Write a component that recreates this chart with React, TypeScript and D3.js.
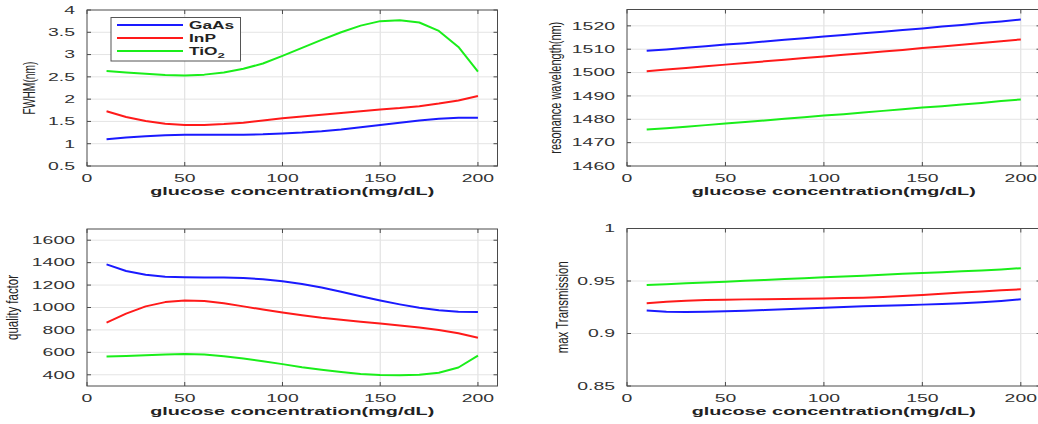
import React from "react";
import * as d3 from "d3";

// ---------- data ----------
const concentration = [10, 20, 30, 40, 50, 60, 70, 80, 90, 100, 110, 120, 130, 140, 150, 160, 170, 180, 190, 200];
const seriesNames = ["GaAs", "InP", "TiO2"];
const seriesColors = ["#1a1aff", "#ff1a1a", "#1aee1a"];

const fwhmGaAs = [1.10, 1.14, 1.17, 1.19, 1.20, 1.20, 1.20, 1.20, 1.21, 1.23, 1.25, 1.28, 1.32, 1.37, 1.42, 1.47, 1.52, 1.56, 1.58, 1.58];
const fwhmInP = [1.73, 1.60, 1.51, 1.45, 1.42, 1.42, 1.44, 1.47, 1.52, 1.57, 1.61, 1.65, 1.69, 1.73, 1.77, 1.80, 1.84, 1.90, 1.97, 2.07];
const fwhmTiO2 = [2.63, 2.60, 2.57, 2.54, 2.53, 2.55, 2.60, 2.68, 2.80, 2.97, 3.15, 3.33, 3.50, 3.65, 3.75, 3.77, 3.72, 3.53, 3.17, 2.62];

const resGaAs = [1509.3, 1509.9, 1510.6, 1511.3, 1512.0, 1512.6, 1513.3, 1514.0, 1514.7, 1515.4, 1516.1, 1516.8, 1517.5, 1518.2, 1518.9, 1519.7, 1520.4, 1521.2, 1521.9, 1522.7];
const resInP = [1500.6, 1501.3, 1502.0, 1502.7, 1503.4, 1504.1, 1504.8, 1505.5, 1506.2, 1506.9, 1507.6, 1508.3, 1509.0, 1509.7, 1510.5, 1511.2, 1511.9, 1512.7, 1513.4, 1514.2];
const resTiO2 = [1475.6, 1476.2, 1476.8, 1477.5, 1478.2, 1478.8, 1479.5, 1480.2, 1480.9, 1481.6, 1482.2, 1482.9, 1483.6, 1484.3, 1485.0, 1485.6, 1486.3, 1487.0, 1487.8, 1488.5];

const qGaAs = [1385, 1325, 1292, 1275, 1270, 1268, 1268, 1262, 1252, 1235, 1210, 1178, 1140, 1100, 1062, 1028, 997, 975, 962, 960];
const qInP = [865, 945, 1010, 1048, 1062, 1058, 1038, 1010, 982, 955, 930, 908, 890, 873, 857, 840, 822, 800, 770, 730];
const qTiO2 = [562, 568, 575, 582, 585, 580, 565, 545, 520, 495, 468, 445, 425, 408, 398, 395, 400, 418, 465, 570];

const tGaAs = [0.9218, 0.9208, 0.9205, 0.9207, 0.9211, 0.9217, 0.9223, 0.9230, 0.9238, 0.9246, 0.9253, 0.9259, 0.9264, 0.9269, 0.9275, 0.9281, 0.9289, 0.9298, 0.9310, 0.9326];
const tInP = [0.9288, 0.9302, 0.9312, 0.9318, 0.9322, 0.9325, 0.9327, 0.9329, 0.9331, 0.9334, 0.9337, 0.9341, 0.9348, 0.9356, 0.9366, 0.9378, 0.9390, 0.9401, 0.9411, 0.9421];
const tTiO2 = [0.9462, 0.9470, 0.9478, 0.9486, 0.9494, 0.9502, 0.9510, 0.9519, 0.9527, 0.9535, 0.9543, 0.9551, 0.9559, 0.9568, 0.9576, 0.9584, 0.9592, 0.9600, 0.9610, 0.9622];

const xTicks = [0, 50, 100, 150, 200];
const fwhmTicks = [0.5, 1, 1.5, 2, 2.5, 3, 3.5, 4];
const resTicks = [1460, 1470, 1480, 1490, 1500, 1510, 1520];
const qTicks = [400, 600, 800, 1000, 1200, 1400, 1600];
const tTicks = [0.85, 0.9, 0.95, 1];
const xLabel = "glucose concentration(mg/dL)";

const FONT = "'Liberation Sans', Arial, Helvetica, sans-serif";
const SX = 1.85; // horizontal stretch of the text in the reference

type PanelProps = {
  left: number; right: number; top: number; bottom: number;
  yDomain: [number, number];
  yTicks: number[];
  yLabel: string;
  yLabelX: number;
  yLabelLen: number;
  series: number[][];
  legend?: boolean;
};

function fmt(v: number) {
  return String(+v.toFixed(4));
}

function Panel(p: PanelProps) {
  const x = d3.scaleLinear().domain([0, 210]).range([p.left, p.right]);
  const y = d3.scaleLinear().domain(p.yDomain).range([p.bottom, p.top]);
  const line = d3
    .line<[number, number]>()
    .x((d) => x(d[0]))
    .y((d) => y(d[1]))
    .curve(d3.curveLinear);
  const midX = (p.left + p.right) / 2;
  const midY = (p.top + p.bottom) / 2;
  const tickLen = 4;
  const axisColor = "#4a4a4a";
  return (
    <g>
      <rect x={p.left} y={p.top} width={p.right - p.left} height={p.bottom - p.top} fill="#fff" />
      {/* grid */}
      {xTicks.filter((t) => t > 0).map((t) => (
        <line key={"gx" + t} x1={x(t)} x2={x(t)} y1={p.top} y2={p.bottom} stroke="#dcdcdc" strokeWidth={1} />
      ))}
      {p.yTicks.filter((t) => y(t) > p.top + 0.5 && y(t) < p.bottom - 0.5).map((t) => (
        <line key={"gy" + t} x1={p.left} x2={p.right} y1={y(t)} y2={y(t)} stroke="#e4e4e4" strokeWidth={1} />
      ))}
      {/* ticks */}
      {xTicks.map((t) => (
        <g key={"tx" + t}>
          <line x1={x(t)} x2={x(t)} y1={p.bottom} y2={p.bottom - tickLen} stroke={axisColor} />
          <line x1={x(t)} x2={x(t)} y1={p.top} y2={p.top + tickLen} stroke={axisColor} />
        </g>
      ))}
      {p.yTicks.map((t) => (
        <g key={"ty" + t}>
          <line x1={p.left} x2={p.left + tickLen} y1={y(t)} y2={y(t)} stroke={axisColor} />
          <line x1={p.right} x2={p.right - tickLen} y1={y(t)} y2={y(t)} stroke={axisColor} />
        </g>
      ))}
      {/* series */}
      {p.series.map((vals, i) => (
        <path
          key={"s" + i}
          d={line(concentration.map((c, j) => [c, vals[j]] as [number, number])) || ""}
          fill="none"
          stroke={seriesColors[i]}
          strokeWidth={2}
          strokeLinejoin="round"
        />
      ))}
      {/* box */}
      <rect x={p.left} y={p.top} width={p.right - p.left} height={p.bottom - p.top} fill="none" stroke={axisColor} strokeWidth={1} />
      {/* tick labels */}
      {xTicks.map((t) => (
        <text
          key={"lx" + t}
          transform={`translate(${x(t)},${p.bottom + 15.5}) scale(${SX},1)`}
          textAnchor="middle"
          fontFamily={FONT}
          fontSize={10.5}
          fill="#333"
        >
          {fmt(t)}
        </text>
      ))}
      {p.yTicks.map((t) => (
        <text
          key={"ly" + t}
          transform={`translate(${p.left - 12},${y(t) + 3.8}) scale(${SX},1)`}
          textAnchor="end"
          fontFamily={FONT}
          fontSize={10.5}
          fill="#333"
        >
          {fmt(t)}
        </text>
      ))}
      {/* axis labels */}
      <text
        x={midX}
        y={p.bottom + 28.5}
        textAnchor="middle"
        fontFamily={FONT}
        fontWeight="bold"
        fontSize={11}
        fill="#222"
        textLength={284}
        lengthAdjust="spacingAndGlyphs"
      >
        {xLabel}
      </text>
      <text
        transform={`translate(${p.yLabelX + 3.5},${midY}) scale(1.5,1) rotate(-90)`}
        textAnchor="middle"
        fontFamily={FONT}
        fontSize={10.5}
        fill="#222"
        textLength={p.yLabelLen}
        lengthAdjust="spacingAndGlyphs"
      >
        {p.yLabel}
      </text>
      {p.legend && (
        <g>
          <rect x={111} y={17.5} width={129.5} height={43.5} fill="#fff" stroke="#555" strokeWidth={1} />
          {seriesNames.map((n, i) => {
            const ly = 25 + i * 13;
            return (
              <g key={"lg" + n}>
                <line x1={117} x2={183} y1={ly} y2={ly} stroke={seriesColors[i]} strokeWidth={2} />
                <text
                  transform={`translate(${189},${ly + 4}) scale(1.65,1)`}
                  fontFamily={FONT}
                  fontWeight="bold"
                  fontSize={10.5}
                  fill="#222"
                >
                  {n === "TiO2" ? (
                    <>
                      TiO
                      <tspan fontSize={8} dy={3}>2</tspan>
                    </>
                  ) : (
                    n
                  )}
                </text>
              </g>
            );
          })}
        </g>
      )}
    </g>
  );
}

export default function App() {
  return (
    <svg
      width={1038}
      height={424}
      style={{ position: "absolute", left: 0, top: 0, background: "#fff" }}
    >
      <rect width={1038} height={424} fill="#fff" />
      <Panel
        left={87} right={497.5} top={10} bottom={166}
        yDomain={[0.5, 4]} yTicks={fwhmTicks}
        yLabel="FWHM(nm)" yLabelX={31} yLabelLen={53}
        series={[fwhmGaAs, fwhmInP, fwhmTiO2]}
        legend
      />
      <Panel
        left={627} right={1040.5} top={9.5} bottom={166}
        yDomain={[1460, 1527]} yTicks={resTicks}
        yLabel="resonance wavelength(nm)" yLabelX={557} yLabelLen={132}
        series={[resGaAs, resInP, resTiO2]}
      />
      <Panel
        left={87} right={497.5} top={229} bottom={386}
        yDomain={[300, 1700]} yTicks={qTicks}
        yLabel="quality factor" yLabelX={14.5} yLabelLen={65}
        series={[qGaAs, qInP, qTiO2]}
      />
      <Panel
        left={627} right={1040.5} top={228.5} bottom={386}
        yDomain={[0.85, 1]} yTicks={tTicks}
        yLabel="max Transmission" yLabelX={564} yLabelLen={92}
        series={[tGaAs, tInP, tTiO2]}
      />
    </svg>
  );
}
